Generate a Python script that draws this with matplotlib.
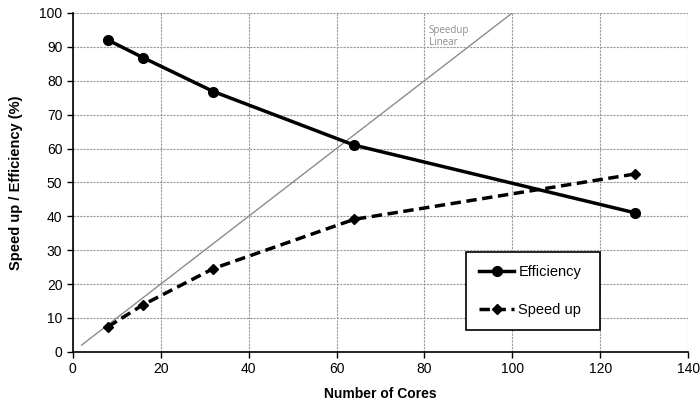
import numpy as np
import matplotlib.pyplot as plt

plt.rcParams['font.family'] = ['Liberation Sans', 'DejaVu Sans']

cores = [8, 16, 32, 64, 128]
efficiency = [92.0, 86.8, 76.8, 61.0, 41.0]
speedup = [7.4, 13.9, 24.6, 39.1, 52.5]
linear_x = [2, 100]
linear_y = [2, 100]

fig = plt.figure(figsize=(7, 4.04), dpi=100)
ax = fig.add_axes([0.104, 0.129, 0.879, 0.839])

ax.plot(linear_x, linear_y, color='#8c8c8c', lw=1.0, zorder=2)
ax.plot(cores, efficiency, color='black', lw=2.5, marker='o', ms=7,
        label='Efficiency', zorder=3)
ax.plot(cores, speedup, color='black', lw=2.5, ls=(0, (3, 1.6)), marker='D', ms=5,
        label='Speed up', zorder=3)

ax.text(81, 96.5, 'Speedup\nLinear', color='#8c8c8c', fontsize=7,
        family=['Open Sans', 'DejaVu Sans'], va='top', ha='left', linespacing=1.2)

ax.set_xlim(0, 140)
ax.set_ylim(0, 100)
ax.set_xticks(np.arange(0, 141, 20))
ax.set_yticks(np.arange(0, 101, 10))
ax.grid(True, color='#999999', ls=(0, (2, 1)), lw=0.8)
ax.set_axisbelow(True)
for s in ['top', 'right']:
    ax.spines[s].set_visible(False)
for s in ['left', 'bottom']:
    ax.spines[s].set_linewidth(1.2)
ax.tick_params(direction='out', length=4, width=1, labelsize=10)

ax.set_xlabel('Number of Cores', fontsize=10, fontweight='bold')
ax.xaxis.set_label_coords(0.5, -0.105)
ax.set_ylabel('Speed up / Efficiency (%)', fontsize=10.5, fontweight='bold', labelpad=12)

leg = ax.legend(loc='lower left', bbox_to_anchor=(0.639, 0.065, 0.218, 0.242),
                mode='expand', frameon=True, fancybox=False, edgecolor='black',
                framealpha=1, fontsize=10.5, labelspacing=1.6, handlelength=2.4,
                handletextpad=0.3, borderpad=0.9, borderaxespad=0)
leg.get_frame().set_linewidth(1.2)
leg._legend_box.align = 'left'

fig.savefig('out.png', dpi=100)
